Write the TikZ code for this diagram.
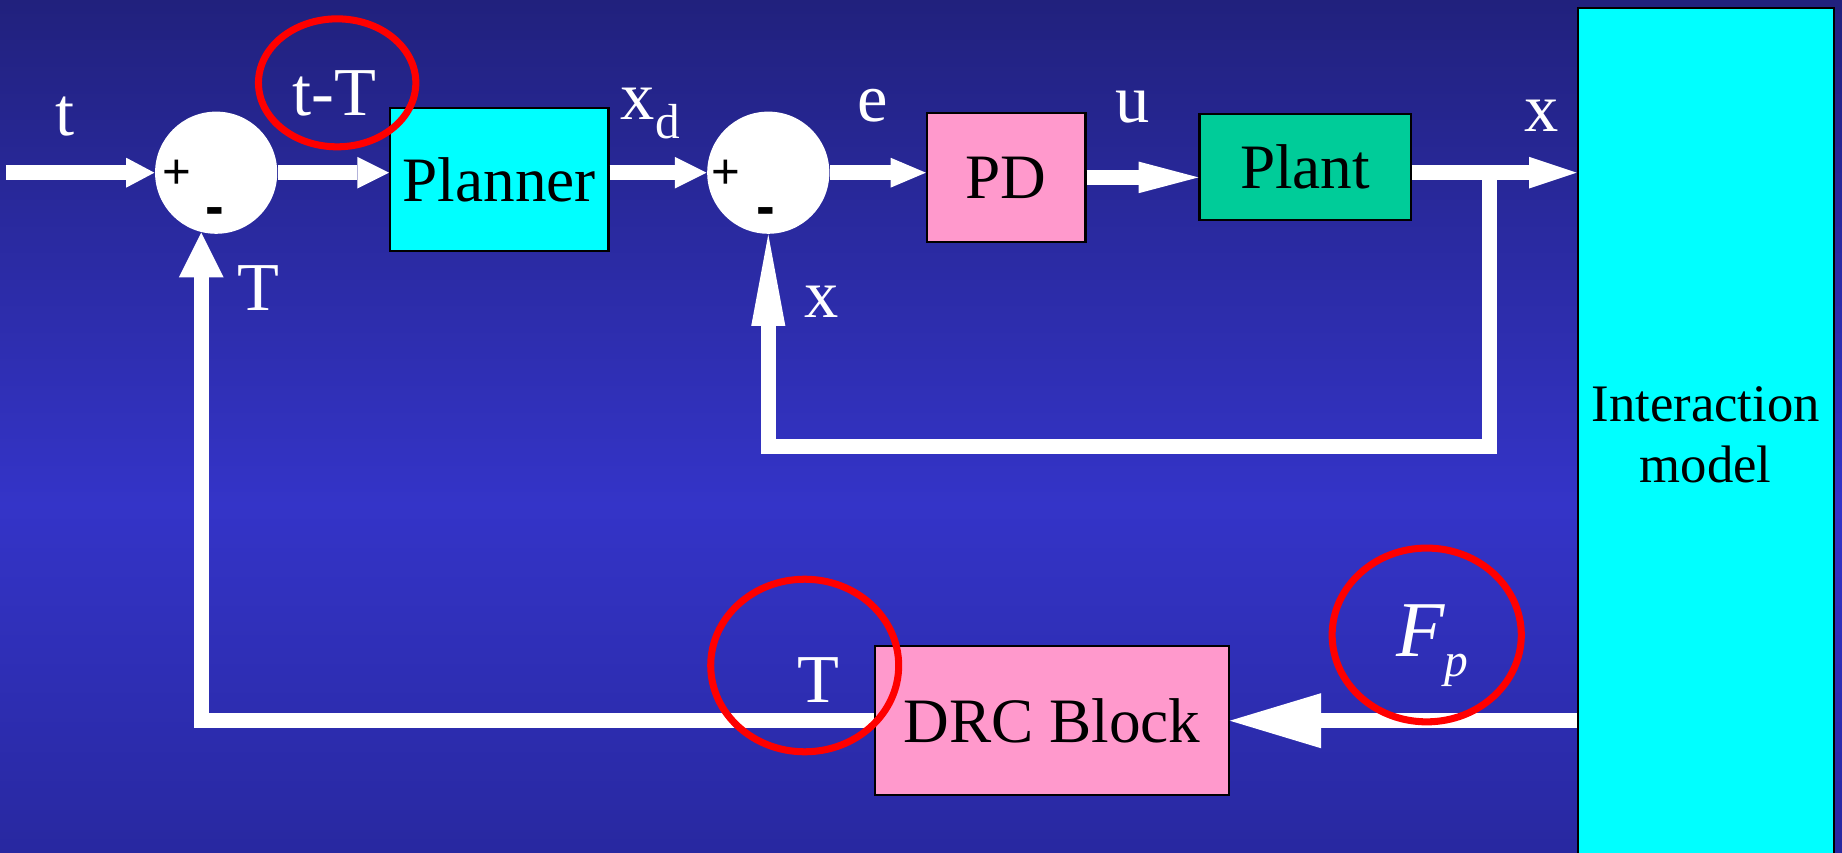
\documentclass[tikz,border=0pt]{standalone}
\usepackage{fontspec}
\setmainfont{Liberation Serif}
\newfontfamily\signfont{Liberation Sans}
\usetikzlibrary{arrows.meta}
\definecolor{bgtop}{RGB}{33,33,125}
\definecolor{bgmid}{RGB}{52,52,200}
\definecolor{bgbot}{RGB}{40,40,160}
\definecolor{blkcyan}{RGB}{0,255,255}
\definecolor{blkpink}{RGB}{255,153,204}
\definecolor{blkgreen}{RGB}{0,204,153}

\begin{document}
\begin{tikzpicture}[x=0.011747cm,y=-0.011747cm,
  blk/.style={draw=black,line width=0.6pt,inner sep=0,font=\fontsize{18}{20}\selectfont},
  sm/.style={circle,fill=white,inner sep=0,minimum size=1.222cm},
  sig/.style={draw=white,line width=4.3pt},
  hd/.style 2 args={-{Triangle[length=#1,width=#2,line width=0pt]}},
  lbl/.style={text=white,anchor=base,inner sep=0,font=\fontsize{19.5}{20}\selectfont},
  pl/.style={inner sep=0,font=\signfont\fontsize{14}{14}\selectfont},
  mn/.style={inner sep=0,font=\signfont\bfseries\fontsize{16}{16}\selectfont},
  ring/.style={draw=red,line width=2pt}]
\useasboundingbox (0,0) rectangle (1568,726);
\clip (0,0) rectangle (1568,726);
\shade[top color=bgtop,bottom color=bgmid] (0,0) rectangle (1568,430);
\shade[top color=bgmid,bottom color=bgbot] (0,429) rectangle (1568,726);

\node[sm] (s1) at (184,147) {};
\node[pl] (p1) at (150.5,148) {+};
\node[mn] (m1) at (182.5,184) {-};
\node[blk,fill=blkcyan,minimum width=2.185cm,minimum height=1.433cm] (plan) at (425,153) {Planner};
\node[sm] (s2) at (654,147) {};
\node[pl] (p2) at (618,148) {+};
\node[mn] (m2) at (652,184.5) {-};
\node[blk,fill=blkpink,minimum width=1.586cm,minimum height=1.292cm] (pd) at (856.5,151) {PD};
\node[blk,fill=blkgreen,minimum width=2.114cm,minimum height=1.057cm] (plant) at (1111,142) {Plant};
\node[blk,fill=blkcyan,minimum width=2.561cm,minimum height=8.528cm,align=center,
  font=\fontsize{15}{17.4}\selectfont] (im) at (1452,370) {Interaction\\model};
\node[blk,fill=blkpink,minimum width=3.536cm,minimum height=1.492cm] (drc) at (895.5,613.5) {DRC Block};

\coordinate (in) at (5,147);
\coordinate (br) at (1268,147);
\coordinate (lo) at (1268,380);
\draw[sig,hd={8pt}{8.5pt}] (in) -- (s1.west);
\draw[sig,hd={9pt}{9pt}] (s1.east) -- (s1.east -| plan.west);
\draw[sig,hd={9pt}{9pt}] (plan.east |- s2.west) -- (s2.west);
\draw[sig,hd={10pt}{8.5pt}] (s2.east) -- (s2.east -| pd.west);
\draw[sig,hd={17pt}{9pt}] (pd.east) -- (pd.east -| plant.west);
\draw[sig,hd={13.5pt}{9pt}] (plant.east |- br) -- (br -| im.west);
\draw[sig,hd={26pt}{9.7pt}] (br) -- (lo) -| (s2.south);
\draw[sig,hd={26pt}{15.7pt}] (im.west |- drc.east) -- (drc.east);
\draw[sig,hd={12.7pt}{12.7pt}] (drc.west) -| (s1.-104.5);

\node[lbl] (tl) at (55,115) {t};
\node[lbl] (tT) at (285,98) {t-T};
\node[lbl] (T1) at (220,264) {T};
\node[lbl,anchor=base west] (xd) at (528,102) {x\raisebox{-5.3pt}{\fontsize{14}{14}\selectfont d}};
\node[lbl] (el) at (743,103) {e};
\node[lbl] (ul) at (964,104) {u};
\node[lbl] (xo) at (1312,112) {x};
\node[lbl] (xf) at (699,270) {x};
\node[lbl] (T2) at (697,598) {T};
\node[lbl,anchor=base west] (fp) at (1188,559) {\fontsize{22.5}{22}\selectfont\itshape F\raisebox{-5.7pt}{\fontsize{13.5}{13}\selectfont p}};

\draw[ring] (287,70.5) ellipse [x radius=0.787cm,y radius=0.64cm];
\draw[ring] (685,566.5) ellipse [x radius=0.94cm,y radius=0.863cm];
\draw[ring] (1214.5,540.5) ellipse [x radius=0.946cm,y radius=0.869cm];
\end{tikzpicture}
\end{document}
